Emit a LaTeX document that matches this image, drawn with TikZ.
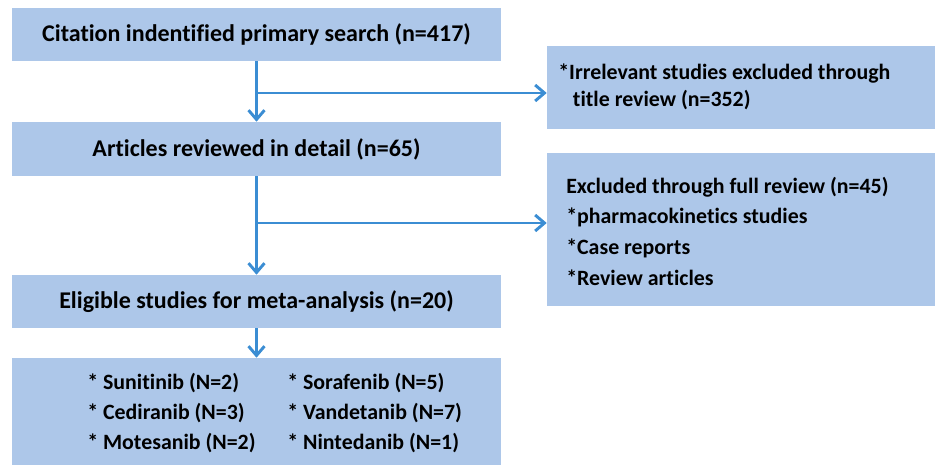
\documentclass[tikz,border=0pt]{standalone}
\usepackage{fontspec}
\setmainfont{Carlito}[Ligatures=NoCommon]
\usetikzlibrary{arrows.meta}
\definecolor{boxblue}{RGB}{173,199,233}
\definecolor{flowblue}{RGB}{59,141,211}
\tikzset{
  box/.style={fill=boxblue, inner sep=0pt, font=\fontsize{18}{21}\selectfont\bfseries},
  item/.style={anchor=west, align=left, inner sep=0pt, font=\fontsize{16.4}{23}\selectfont\bfseries},
  flow/.style={draw=flowblue, line width=2.2pt, -{Straight Barb[length=7pt,width=12pt]}}
}

\begin{document}
\begin{tikzpicture}[x=0.75pt,y=-0.75pt]
\useasboundingbox (0,0) rectangle (935,465);
\node[box, minimum width=366.75pt, minimum height=39.75pt] (cit) at (256.5,34.5) {Citation indentified primary search (n=417)};
\node[box, minimum width=366.75pt, minimum height=40.5pt] (art) at (256.5,149) {Articles reviewed in detail (n=65)};
\node[box, minimum width=366.75pt, minimum height=39.75pt] (elig) at (256.5,301.5) {Eligible studies for meta-analysis (n=20)};
\node[box, minimum width=366.75pt, minimum height=80.25pt] (drugs) at (256.5,411.5) {};
\node[box, minimum width=291pt, minimum height=62.25pt] (irr) at (741,87.5) {};
\node[box, minimum width=291pt, minimum height=114.75pt] (full) at (741,229.5) {};

\node[item, font=\fontsize{16.4}{20.25}\selectfont\bfseries] (irrtxt) at (558,87) {*Irrelevant studies excluded through\\\hspace*{11pt}title review (n=352)};
\node[item] (fulltxt) at (566,231) {Excluded through full review (n=45)\\*pharmacokinetics studies\\*Case reports\\*Review articles};
\node[item, font=\fontsize{16.4}{22.3}\selectfont\bfseries] (drugsa) at (87,413) {* Sunitinib (N=2)\\* Cediranib (N=3)\\* Motesanib (N=2)};
\node[item, font=\fontsize{16.4}{22.3}\selectfont\bfseries] (drugsb) at (287,413) {* Sorafenib (N=5)\\* Vandetanib (N=7)\\* Nintedanib (N=1)};

\coordinate (split1) at (256.5,93);
\coordinate (split2) at (256.5,223);
\draw[flow] (cit) -- (art);
\draw[flow] (art) -- (elig);
\draw[flow] (elig) -- (drugs);
\draw[flow] (split1) -- (split1 -| irr.west);
\draw[flow] (split2) -- (split2 -| full.west);
\end{tikzpicture}
\end{document}
